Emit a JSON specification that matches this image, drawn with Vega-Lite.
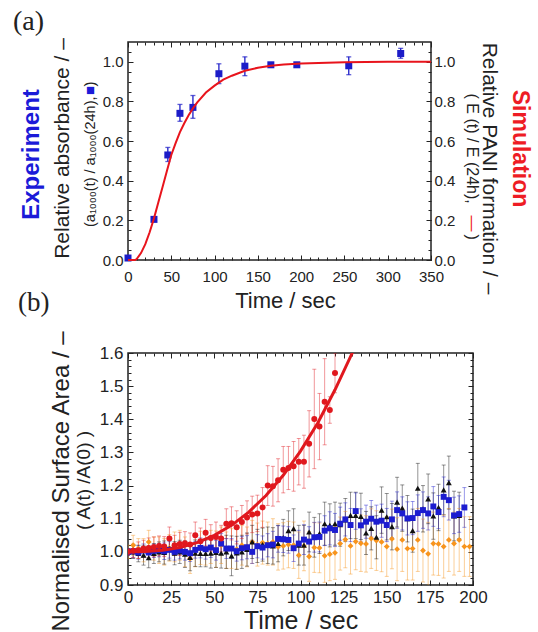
{
"$schema": "https://vega.github.io/schema/vega-lite/v6.json",
"background": "white",
"padding": {"left": 12, "top": 6, "right": 2, "bottom": 0},
"bounds": "flush",
"spacing": 93,
"config": {
  "view": {"stroke": "#222", "strokeWidth": 1.5},
  "axis": {"domain": false, "grid": false, "labelFont": "Liberation Sans", "titleFont": "Liberation Sans", "labelColor": "#222", "titleColor": "#222", "tickColor": "#222", "tickWidth": 1, "titleFontWeight": "normal", "labelFlush": false, "labelOverlap": false},
  "title": {"font": "Liberation Serif", "fontWeight": "normal", "color": "#222", "anchor": "start", "frame": "group"}
},
"datasets": {
  "aexp": [
    {"t":0,"v":0.01,"l":0.004,"h":0.016},
    {"t":30,"v":0.205,"l":0.197,"h":0.213},
    {"t":46,"v":0.53,"l":0.497,"h":0.568},
    {"t":60,"v":0.74,"l":0.70,"h":0.785},
    {"t":75,"v":0.77,"l":0.715,"h":0.83},
    {"t":105,"v":0.94,"l":0.89,"h":0.99},
    {"t":135,"v":0.978,"l":0.93,"h":1.025},
    {"t":165,"v":0.985,"l":0.975,"h":0.995},
    {"t":195,"v":0.985,"l":0.975,"h":0.995},
    {"t":255,"v":0.98,"l":0.935,"h":1.025},
    {"t":315,"v":1.042,"l":1.018,"h":1.068}
  ],
  "asim": [
    {"t":0,"v":0},{"t":5,"v":0},{"t":8,"v":0},{"t":10,"v":0.005},{"t":15,"v":0.035},{"t":20,"v":0.08},{"t":25,"v":0.14},{"t":30,"v":0.21},{"t":35,"v":0.29},{"t":40,"v":0.37},{"t":45,"v":0.45},{"t":50,"v":0.53},{"t":55,"v":0.59},{"t":60,"v":0.645},{"t":65,"v":0.69},{"t":70,"v":0.73},{"t":75,"v":0.765},{"t":80,"v":0.795},{"t":90,"v":0.845},{"t":100,"v":0.88},{"t":110,"v":0.91},{"t":120,"v":0.93},{"t":135,"v":0.955},{"t":150,"v":0.97},{"t":165,"v":0.98},{"t":180,"v":0.987},{"t":200,"v":0.992},{"t":250,"v":0.998},{"t":300,"v":1.0},{"t":350,"v":1.0}
  ],
  "bfit": [
    {"t":0,"v":1.0},{"t":10,"v":1.001},{"t":20,"v":1.005},{"t":30,"v":1.013},{"t":40,"v":1.028},{"t":50,"v":1.05},{"t":60,"v":1.08},{"t":70,"v":1.12},{"t":80,"v":1.17},{"t":90,"v":1.231},{"t":100,"v":1.304},{"t":110,"v":1.389},{"t":120,"v":1.489},{"t":130,"v":1.6},{"t":135,"v":1.661}
  ],
  "bser": [
{"s":"o","t":0,"v":1.000,"l":0.980,"h":1.020},
{"s":"o","t":3,"v":1.020,"l":0.990,"h":1.050},
{"s":"o","t":6,"v":1.010,"l":0.980,"h":1.040},
{"s":"o","t":9,"v":1.005,"l":0.970,"h":1.040},
{"s":"o","t":12,"v":1.030,"l":0.995,"h":1.065},
{"s":"o","t":15,"v":1.010,"l":0.975,"h":1.045},
{"s":"o","t":18,"v":1.005,"l":0.965,"h":1.045},
{"s":"o","t":21,"v":1.000,"l":0.960,"h":1.040},
{"s":"o","t":24,"v":1.012,"l":0.972,"h":1.052},
{"s":"o","t":27,"v":1.015,"l":0.970,"h":1.060},
{"s":"o","t":30,"v":1.020,"l":0.975,"h":1.065},
{"s":"o","t":33,"v":1.000,"l":0.955,"h":1.045},
{"s":"o","t":36,"v":0.980,"l":0.935,"h":1.025},
{"s":"o","t":39,"v":1.005,"l":0.955,"h":1.055},
{"s":"o","t":42,"v":1.012,"l":0.962,"h":1.062},
{"s":"o","t":45,"v":1.010,"l":0.960,"h":1.060},
{"s":"o","t":48,"v":1.015,"l":0.965,"h":1.065},
{"s":"o","t":51,"v":1.008,"l":0.953,"h":1.063},
{"s":"o","t":54,"v":1.020,"l":0.965,"h":1.075},
{"s":"o","t":57,"v":1.005,"l":0.950,"h":1.060},
{"s":"o","t":60,"v":1.010,"l":0.950,"h":1.070},
{"s":"o","t":63,"v":1.008,"l":0.948,"h":1.068},
{"s":"o","t":66,"v":1.020,"l":0.960,"h":1.080},
{"s":"o","t":69,"v":1.015,"l":0.955,"h":1.075},
{"s":"o","t":72,"v":1.030,"l":0.965,"h":1.095},
{"s":"o","t":75,"v":1.022,"l":0.957,"h":1.087},
{"s":"o","t":78,"v":1.028,"l":0.963,"h":1.093},
{"s":"o","t":81,"v":1.025,"l":0.960,"h":1.090},
{"s":"o","t":84,"v":1.030,"l":0.960,"h":1.100},
{"s":"o","t":87,"v":1.015,"l":0.945,"h":1.085},
{"s":"o","t":90,"v":1.018,"l":0.948,"h":1.088},
{"s":"o","t":93,"v":1.022,"l":0.952,"h":1.092},
{"s":"o","t":96,"v":1.020,"l":0.950,"h":1.090},
{"s":"o","t":99,"v":0.990,"l":0.920,"h":1.060},
{"s":"o","t":102,"v":1.018,"l":0.943,"h":1.093},
{"s":"o","t":105,"v":0.986,"l":0.911,"h":1.061},
{"s":"o","t":108,"v":1.013,"l":0.938,"h":1.088},
{"s":"o","t":111,"v":1.012,"l":0.937,"h":1.087},
{"s":"o","t":114,"v":0.988,"l":0.908,"h":1.068},
{"s":"o","t":117,"v":0.993,"l":0.913,"h":1.073},
{"s":"o","t":120,"v":0.997,"l":0.917,"h":1.077},
{"s":"o","t":123,"v":1.025,"l":0.945,"h":1.105},
{"s":"o","t":126,"v":1.037,"l":0.952,"h":1.122},
{"s":"o","t":129,"v":1.018,"l":0.933,"h":1.103},
{"s":"o","t":132,"v":1.031,"l":0.946,"h":1.116},
{"s":"o","t":135,"v":1.026,"l":0.941,"h":1.111},
{"s":"o","t":138,"v":1.024,"l":0.939,"h":1.109},
{"s":"o","t":141,"v":1.040,"l":0.950,"h":1.130},
{"s":"o","t":144,"v":1.034,"l":0.944,"h":1.124},
{"s":"o","t":147,"v":1.030,"l":0.940,"h":1.120},
{"s":"o","t":150,"v":1.016,"l":0.926,"h":1.106},
{"s":"o","t":153,"v":1.039,"l":0.949,"h":1.129},
{"s":"o","t":156,"v":1.008,"l":0.913,"h":1.103},
{"s":"o","t":159,"v":1.036,"l":0.941,"h":1.131},
{"s":"o","t":162,"v":1.010,"l":0.915,"h":1.105},
{"s":"o","t":165,"v":1.010,"l":0.915,"h":1.105},
{"s":"o","t":168,"v":1.036,"l":0.941,"h":1.131},
{"s":"o","t":171,"v":1.004,"l":0.909,"h":1.099},
{"s":"o","t":174,"v":0.994,"l":0.899,"h":1.089},
{"s":"o","t":177,"v":1.025,"l":0.930,"h":1.120},
{"s":"o","t":180,"v":1.024,"l":0.929,"h":1.119},
{"s":"o","t":183,"v":1.016,"l":0.921,"h":1.111},
{"s":"o","t":186,"v":1.036,"l":0.941,"h":1.131},
{"s":"o","t":189,"v":1.025,"l":0.930,"h":1.120},
{"s":"o","t":192,"v":1.036,"l":0.941,"h":1.131},
{"s":"o","t":195,"v":1.016,"l":0.926,"h":1.106},
{"s":"o","t":198,"v":1.016,"l":0.926,"h":1.106},
{"s":"k","t":0,"v":1.000,"l":0.990,"h":1.010},
{"s":"k","t":3,"v":1.000,"l":0.980,"h":1.020},
{"s":"k","t":6,"v":0.995,"l":0.970,"h":1.020},
{"s":"k","t":9,"v":0.990,"l":0.960,"h":1.020},
{"s":"k","t":12,"v":0.982,"l":0.952,"h":1.012},
{"s":"k","t":15,"v":0.995,"l":0.965,"h":1.025},
{"s":"k","t":18,"v":1.000,"l":0.970,"h":1.030},
{"s":"k","t":21,"v":0.998,"l":0.963,"h":1.033},
{"s":"k","t":24,"v":1.010,"l":0.975,"h":1.045},
{"s":"k","t":27,"v":0.996,"l":0.961,"h":1.031},
{"s":"k","t":30,"v":1.000,"l":0.965,"h":1.035},
{"s":"k","t":33,"v":0.993,"l":0.953,"h":1.033},
{"s":"k","t":36,"v":0.983,"l":0.943,"h":1.023},
{"s":"k","t":39,"v":0.996,"l":0.956,"h":1.036},
{"s":"k","t":42,"v":0.995,"l":0.955,"h":1.035},
{"s":"k","t":45,"v":0.995,"l":0.955,"h":1.035},
{"s":"k","t":48,"v":0.996,"l":0.951,"h":1.041},
{"s":"k","t":51,"v":0.998,"l":0.953,"h":1.043},
{"s":"k","t":54,"v":0.996,"l":0.951,"h":1.041},
{"s":"k","t":57,"v":1.000,"l":0.950,"h":1.050},
{"s":"k","t":60,"v":0.988,"l":0.928,"h":1.048},
{"s":"k","t":63,"v":0.997,"l":0.947,"h":1.047},
{"s":"k","t":66,"v":1.000,"l":0.950,"h":1.050},
{"s":"k","t":69,"v":1.007,"l":0.957,"h":1.057},
{"s":"k","t":72,"v":1.030,"l":0.980,"h":1.080},
{"s":"k","t":75,"v":1.018,"l":0.968,"h":1.068},
{"s":"k","t":78,"v":1.022,"l":0.972,"h":1.072},
{"s":"k","t":81,"v":1.020,"l":0.965,"h":1.075},
{"s":"k","t":84,"v":1.018,"l":0.963,"h":1.073},
{"s":"k","t":87,"v":1.025,"l":0.970,"h":1.080},
{"s":"k","t":90,"v":1.043,"l":0.988,"h":1.098},
{"s":"k","t":93,"v":1.064,"l":1.004,"h":1.124},
{"s":"k","t":96,"v":1.070,"l":1.010,"h":1.130},
{"s":"k","t":99,"v":1.020,"l":0.960,"h":1.080},
{"s":"k","t":102,"v":1.020,"l":0.960,"h":1.080},
{"s":"k","t":105,"v":1.060,"l":1.000,"h":1.120},
{"s":"k","t":108,"v":1.044,"l":0.984,"h":1.104},
{"s":"k","t":111,"v":1.055,"l":0.995,"h":1.115},
{"s":"k","t":114,"v":1.085,"l":1.020,"h":1.150},
{"s":"k","t":117,"v":1.080,"l":1.015,"h":1.145},
{"s":"k","t":120,"v":1.085,"l":1.020,"h":1.150},
{"s":"k","t":123,"v":1.082,"l":1.017,"h":1.147},
{"s":"k","t":126,"v":1.096,"l":1.031,"h":1.161},
{"s":"k","t":129,"v":1.110,"l":1.040,"h":1.180},
{"s":"k","t":132,"v":1.110,"l":1.040,"h":1.180},
{"s":"k","t":135,"v":1.107,"l":1.037,"h":1.177},
{"s":"k","t":138,"v":1.057,"l":0.992,"h":1.122},
{"s":"k","t":141,"v":1.071,"l":1.006,"h":1.136},
{"s":"k","t":144,"v":1.044,"l":0.979,"h":1.109},
{"s":"k","t":147,"v":1.126,"l":1.056,"h":1.196},
{"s":"k","t":150,"v":1.106,"l":1.036,"h":1.176},
{"s":"k","t":153,"v":1.076,"l":1.006,"h":1.146},
{"s":"k","t":156,"v":1.150,"l":1.075,"h":1.225},
{"s":"k","t":159,"v":1.132,"l":1.062,"h":1.202},
{"s":"k","t":162,"v":1.100,"l":1.030,"h":1.170},
{"s":"k","t":165,"v":1.064,"l":0.999,"h":1.129},
{"s":"k","t":168,"v":1.192,"l":1.117,"h":1.267},
{"s":"k","t":171,"v":1.130,"l":1.060,"h":1.200},
{"s":"k","t":174,"v":1.160,"l":1.085,"h":1.235},
{"s":"k","t":177,"v":1.108,"l":1.038,"h":1.178},
{"s":"k","t":180,"v":1.134,"l":1.064,"h":1.204},
{"s":"k","t":183,"v":1.187,"l":1.112,"h":1.262},
{"s":"k","t":186,"v":1.209,"l":1.129,"h":1.289},
{"s":"k","t":189,"v":1.108,"l":1.033,"h":1.183},
{"s":"k","t":192,"v":1.110,"l":1.040,"h":1.180},
{"s":"b","t":0,"v":1.000,"l":0.990,"h":1.010},
{"s":"b","t":3,"v":1.002,"l":0.982,"h":1.022},
{"s":"b","t":6,"v":0.998,"l":0.978,"h":1.018},
{"s":"b","t":9,"v":1.004,"l":0.984,"h":1.024},
{"s":"b","t":12,"v":0.998,"l":0.978,"h":1.018},
{"s":"b","t":15,"v":1.003,"l":0.983,"h":1.023},
{"s":"b","t":18,"v":1.005,"l":0.985,"h":1.025},
{"s":"b","t":21,"v":1.002,"l":0.977,"h":1.027},
{"s":"b","t":24,"v":1.006,"l":0.981,"h":1.031},
{"s":"b","t":27,"v":1.000,"l":0.975,"h":1.025},
{"s":"b","t":30,"v":1.004,"l":0.979,"h":1.029},
{"s":"b","t":33,"v":1.000,"l":0.975,"h":1.025},
{"s":"b","t":36,"v":0.996,"l":0.971,"h":1.021},
{"s":"b","t":39,"v":1.006,"l":0.981,"h":1.031},
{"s":"b","t":42,"v":1.012,"l":0.982,"h":1.042},
{"s":"b","t":45,"v":1.008,"l":0.978,"h":1.038},
{"s":"b","t":48,"v":1.013,"l":0.983,"h":1.043},
{"s":"b","t":51,"v":1.005,"l":0.975,"h":1.035},
{"s":"b","t":54,"v":1.025,"l":0.995,"h":1.055},
{"s":"b","t":57,"v":1.010,"l":0.980,"h":1.040},
{"s":"b","t":60,"v":1.010,"l":0.980,"h":1.040},
{"s":"b","t":63,"v":1.002,"l":0.972,"h":1.032},
{"s":"b","t":66,"v":1.011,"l":0.976,"h":1.046},
{"s":"b","t":69,"v":1.014,"l":0.979,"h":1.049},
{"s":"b","t":72,"v":1.000,"l":0.965,"h":1.035},
{"s":"b","t":75,"v":1.017,"l":0.982,"h":1.052},
{"s":"b","t":78,"v":1.013,"l":0.978,"h":1.048},
{"s":"b","t":81,"v":1.020,"l":0.985,"h":1.055},
{"s":"b","t":84,"v":1.022,"l":0.982,"h":1.062},
{"s":"b","t":87,"v":1.039,"l":0.999,"h":1.079},
{"s":"b","t":90,"v":1.038,"l":0.998,"h":1.078},
{"s":"b","t":93,"v":1.036,"l":0.996,"h":1.076},
{"s":"b","t":96,"v":1.011,"l":0.971,"h":1.051},
{"s":"b","t":99,"v":1.025,"l":0.985,"h":1.065},
{"s":"b","t":102,"v":1.037,"l":0.992,"h":1.082},
{"s":"b","t":105,"v":1.031,"l":0.986,"h":1.076},
{"s":"b","t":108,"v":1.044,"l":0.999,"h":1.089},
{"s":"b","t":111,"v":1.045,"l":1.000,"h":1.090},
{"s":"b","t":114,"v":1.064,"l":1.019,"h":1.109},
{"s":"b","t":117,"v":1.071,"l":1.021,"h":1.121},
{"s":"b","t":120,"v":1.066,"l":1.016,"h":1.116},
{"s":"b","t":123,"v":1.085,"l":1.035,"h":1.135},
{"s":"b","t":126,"v":1.098,"l":1.048,"h":1.148},
{"s":"b","t":129,"v":1.081,"l":1.031,"h":1.131},
{"s":"b","t":132,"v":1.123,"l":1.068,"h":1.178},
{"s":"b","t":135,"v":1.080,"l":1.030,"h":1.130},
{"s":"b","t":138,"v":1.091,"l":1.041,"h":1.141},
{"s":"b","t":141,"v":1.100,"l":1.045,"h":1.155},
{"s":"b","t":144,"v":1.091,"l":1.041,"h":1.141},
{"s":"b","t":147,"v":1.094,"l":1.044,"h":1.144},
{"s":"b","t":150,"v":1.081,"l":1.031,"h":1.131},
{"s":"b","t":153,"v":1.098,"l":1.043,"h":1.153},
{"s":"b","t":156,"v":1.126,"l":1.071,"h":1.181},
{"s":"b","t":159,"v":1.116,"l":1.066,"h":1.166},
{"s":"b","t":162,"v":1.101,"l":1.051,"h":1.151},
{"s":"b","t":165,"v":1.102,"l":1.052,"h":1.152},
{"s":"b","t":168,"v":1.117,"l":1.062,"h":1.172},
{"s":"b","t":171,"v":1.126,"l":1.071,"h":1.181},
{"s":"b","t":174,"v":1.116,"l":1.066,"h":1.166},
{"s":"b","t":177,"v":1.137,"l":1.077,"h":1.197},
{"s":"b","t":180,"v":1.120,"l":1.070,"h":1.170},
{"s":"b","t":183,"v":1.166,"l":1.106,"h":1.226},
{"s":"b","t":186,"v":1.156,"l":1.096,"h":1.216},
{"s":"b","t":189,"v":1.110,"l":1.055,"h":1.165},
{"s":"b","t":192,"v":1.114,"l":1.059,"h":1.169},
{"s":"b","t":195,"v":1.134,"l":1.074,"h":1.194},
{"s":"r","t":0,"v":1.000,"l":0.990,"h":1.010},
{"s":"r","t":3,"v":1.003,"l":0.983,"h":1.023},
{"s":"r","t":6,"v":1.005,"l":0.980,"h":1.030},
{"s":"r","t":9,"v":1.010,"l":0.985,"h":1.035},
{"s":"r","t":12,"v":1.012,"l":0.982,"h":1.042},
{"s":"r","t":15,"v":1.015,"l":0.985,"h":1.045},
{"s":"r","t":18,"v":1.018,"l":0.988,"h":1.048},
{"s":"r","t":21,"v":1.016,"l":0.986,"h":1.046},
{"s":"r","t":24,"v":1.040,"l":1.005,"h":1.075},
{"s":"r","t":27,"v":1.020,"l":0.990,"h":1.050},
{"s":"r","t":30,"v":1.024,"l":0.989,"h":1.059},
{"s":"r","t":33,"v":1.026,"l":0.991,"h":1.061},
{"s":"r","t":36,"v":1.022,"l":0.987,"h":1.057},
{"s":"r","t":39,"v":1.050,"l":1.010,"h":1.090},
{"s":"r","t":42,"v":1.032,"l":0.992,"h":1.072},
{"s":"r","t":45,"v":1.058,"l":1.018,"h":1.098},
{"s":"r","t":48,"v":1.042,"l":1.002,"h":1.082},
{"s":"r","t":51,"v":1.045,"l":1.000,"h":1.090},
{"s":"r","t":54,"v":1.040,"l":1.000,"h":1.080},
{"s":"r","t":57,"v":1.085,"l":1.040,"h":1.130},
{"s":"r","t":60,"v":1.086,"l":1.036,"h":1.136},
{"s":"r","t":63,"v":1.074,"l":1.024,"h":1.124},
{"s":"r","t":66,"v":1.090,"l":1.040,"h":1.140},
{"s":"r","t":69,"v":1.104,"l":1.054,"h":1.154},
{"s":"r","t":72,"v":1.113,"l":1.058,"h":1.168},
{"s":"r","t":75,"v":1.116,"l":1.061,"h":1.171},
{"s":"r","t":78,"v":1.134,"l":1.074,"h":1.194},
{"s":"r","t":81,"v":1.200,"l":1.140,"h":1.260},
{"s":"r","t":84,"v":1.198,"l":1.138,"h":1.258},
{"s":"r","t":87,"v":1.216,"l":1.151,"h":1.281},
{"s":"r","t":90,"v":1.248,"l":1.178,"h":1.318},
{"s":"r","t":93,"v":1.253,"l":1.188,"h":1.318},
{"s":"r","t":96,"v":1.258,"l":1.183,"h":1.333},
{"s":"r","t":99,"v":1.272,"l":1.202,"h":1.342},
{"s":"r","t":102,"v":1.272,"l":1.192,"h":1.352},
{"s":"r","t":105,"v":1.326,"l":1.226,"h":1.426},
{"s":"r","t":108,"v":1.401,"l":1.251,"h":1.551},
{"s":"r","t":111,"v":1.378,"l":1.278,"h":1.478},
{"s":"r","t":114,"v":1.453,"l":1.323,"h":1.583},
{"s":"r","t":117,"v":1.428,"l":1.388,"h":1.468},
{"s":"r","t":120,"v":1.540,"l":1.480,"h":1.600}
  ]
},
"vconcat": [
{
  "width": 303, "height": 218,
  "title": {"text": "(a)", "dx": -115, "offset": 2, "fontSize": 28},
  "layer": [
    {"data": {"name": "aexp"},
     "mark": {"type": "rule", "color": "#1c1cc8", "strokeWidth": 1.3},
     "encoding": {
       "x": {"field": "t", "type": "quantitative", "scale": {"domain": [0,350], "nice": false, "zero": false},
             "axis": {"orient": "bottom", "values": [0,50,100,150,200,250,300,350], "tickSize": -5, "labelPadding": 14, "labelFontSize": 15, "title": "Time / sec", "titleFontSize": 22, "titlePadding": 4, "titleX": 157, "minExtent": 26, "maxExtent": 26}},
       "y": {"field": "l", "type": "quantitative", "scale": {"domain": [0,1.1], "nice": false, "zero": false},
             "axis": {"orient": "left", "values": [0,0.2,0.4,0.6,0.8,1], "format": ".1f", "tickSize": -5, "labelPadding": 10, "labelFontSize": 15, "title": "(a₁₀₀₀(t) / a₁₀₀₀(24h),", "titleFontSize": 14.5, "titleAlign": "right", "titleY": 54, "titlePadding": 4, "minExtent": 27, "maxExtent": 27}},
       "y2": {"field": "h"}
     }},
    {"data": {"name": "aexp"},
     "mark": {"type": "tick", "orient": "horizontal", "size": 5, "thickness": 1.3, "color": "#1c1cc8"},
     "encoding": {
       "x": {"field": "t", "type": "quantitative", "scale": {"domain": [0,350], "nice": false, "zero": false},
             "axis": {"orient": "bottom", "values": [0,10,20,30,40,50,60,70,80,90,100,110,120,130,140,150,160,170,180,190,200,210,220,230,240,250,260,270,280,290,300,310,320,330,340,350], "tickSize": -3, "labels": false, "title": null, "minExtent": 0, "maxExtent": 0}},
       "y": {"field": "l", "type": "quantitative", "scale": {"domain": [0,1.1], "nice": false, "zero": false},
             "axis": {"orient": "left", "values": [0,0.05,0.1,0.15,0.2,0.25,0.3,0.35,0.4,0.45,0.5,0.55,0.6,0.65,0.7,0.75,0.8,0.85,0.9,0.95,1,1.05], "tickSize": -3, "labels": false, "title": "Relative absorbance / –", "titleFontSize": 21, "titleY": 106, "titlePadding": 56, "minExtent": 0, "maxExtent": 0}}
     }},
    {"data": {"name": "aexp"},
     "mark": {"type": "tick", "orient": "horizontal", "size": 5, "thickness": 1.3, "color": "#1c1cc8"},
     "encoding": {
       "x": {"field": "t", "type": "quantitative", "scale": {"domain": [0,350], "nice": false, "zero": false},
             "axis": {"orient": "top", "values": [0,50,100,150,200,250,300,350], "tickSize": -5, "labels": false, "title": null, "minExtent": 0, "maxExtent": 0}},
       "y": {"field": "h", "type": "quantitative", "scale": {"domain": [0,1.1], "nice": false, "zero": false},
             "axis": {"orient": "left", "ticks": false, "labels": false, "title": "Experiment", "titleColor": "#1b1bd8", "titleFontWeight": "bold", "titleFontSize": 24, "titleY": 112, "titlePadding": 85, "minExtent": 0, "maxExtent": 0}}
     }},
    {"data": {"name": "aexp"},
     "mark": {"type": "point", "shape": "square", "filled": true, "opacity": 1, "size": 49, "color": "#1c1cc8"},
     "encoding": {
       "x": {"field": "t", "type": "quantitative", "scale": {"domain": [0,350], "nice": false, "zero": false},
             "axis": {"orient": "top", "values": [0,10,20,30,40,50,60,70,80,90,100,110,120,130,140,150,160,170,180,190,200,210,220,230,240,250,260,270,280,290,300,310,320,330,340,350], "tickSize": -3, "labels": false, "title": null, "minExtent": 0, "maxExtent": 0}},
       "y": {"field": "v", "type": "quantitative", "scale": {"domain": [0,1.1], "nice": false, "zero": false},
             "axis": {"orient": "left", "ticks": false, "labels": false, "title": "■", "titleColor": "#1b1bd8", "titleFontSize": 15, "titleY": 48, "titlePadding": 31, "minExtent": 0, "maxExtent": 0}}
     }},
    {"data": {"name": "asim"},
     "mark": {"type": "line", "opacity": 0},
     "encoding": {
       "x": {"field": "t", "type": "quantitative", "scale": {"domain": [0,350], "nice": false, "zero": false}, "axis": null},
       "y": {"field": "v", "type": "quantitative", "scale": {"domain": [0,1.1], "nice": false, "zero": false},
             "axis": {"orient": "left", "ticks": false, "labels": false, "title": ")", "titleFontSize": 15, "titleAlign": "left", "titleY": 44, "titlePadding": 31, "minExtent": 0, "maxExtent": 0}}
     }},
    {"data": {"name": "asim"},
     "mark": {"type": "line", "color": "#e8141c", "strokeWidth": 2},
     "encoding": {
       "x": {"field": "t", "type": "quantitative", "scale": {"domain": [0,350], "nice": false, "zero": false}, "axis": null},
       "y": {"field": "v", "type": "quantitative", "scale": {"domain": [0,1.1], "nice": false, "zero": false},
             "axis": {"orient": "right", "values": [0,0.2,0.4,0.6,0.8,1], "format": ".1f", "tickSize": -5, "labelPadding": 8, "labelFontSize": 15, "title": "( E (t) / E (24h),", "titleFontSize": 16, "titleAlign": "left", "titleY": 51, "titlePadding": 7, "minExtent": 25, "maxExtent": 25}}
     }},
    {"data": {"name": "asim"},
     "mark": {"type": "line", "opacity": 0},
     "encoding": {
       "x": {"field": "t", "type": "quantitative", "scale": {"domain": [0,350], "nice": false, "zero": false}, "axis": null},
       "y": {"field": "v", "type": "quantitative", "scale": {"domain": [0,1.1], "nice": false, "zero": false},
             "axis": {"orient": "right", "values": [0,0.05,0.1,0.15,0.2,0.25,0.3,0.35,0.4,0.45,0.5,0.55,0.6,0.65,0.7,0.75,0.8,0.85,0.9,0.95,1,1.05], "tickSize": -3, "labels": false, "title": "Relative PANI formation / –", "titleFontSize": 21, "titleY": 126, "titlePadding": 47, "minExtent": 0, "maxExtent": 0}}
     }},
    {"data": {"name": "asim"},
     "mark": {"type": "line", "opacity": 0},
     "encoding": {
       "x": {"field": "t", "type": "quantitative", "scale": {"domain": [0,350], "nice": false, "zero": false}, "axis": null},
       "y": {"field": "v", "type": "quantitative", "scale": {"domain": [0,1.1], "nice": false, "zero": false},
             "axis": {"orient": "right", "ticks": false, "labels": false, "title": "Simulation", "titleColor": "#ee1c24", "titleFontWeight": "bold", "titleFontSize": 23, "titleY": 106, "titlePadding": 76, "minExtent": 0, "maxExtent": 0}}
     }},
    {"data": {"name": "asim"},
     "mark": {"type": "line", "opacity": 0},
     "encoding": {
       "x": {"field": "t", "type": "quantitative", "scale": {"domain": [0,350], "nice": false, "zero": false}, "axis": null},
       "y": {"field": "v", "type": "quantitative", "scale": {"domain": [0,1.1], "nice": false, "zero": false},
             "axis": {"orient": "right", "ticks": false, "labels": false, "title": "—", "titleColor": "#ee1c24", "titleFontSize": 16, "titleY": 181, "titlePadding": 32, "minExtent": 0, "maxExtent": 0}}
     }},
    {"data": {"name": "asim"},
     "mark": {"type": "line", "opacity": 0},
     "encoding": {
       "x": {"field": "t", "type": "quantitative", "scale": {"domain": [0,350], "nice": false, "zero": false}, "axis": null},
       "y": {"field": "v", "type": "quantitative", "scale": {"domain": [0,1.1], "nice": false, "zero": false},
             "axis": {"orient": "right", "ticks": false, "labels": false, "title": ")", "titleFontSize": 16, "titleAlign": "left", "titleY": 192, "titlePadding": 32, "minExtent": 0, "maxExtent": 0}}
     }}
  ],
  "resolve": {"axis": {"x": "independent", "y": "independent"}}
},
{
  "width": 345, "height": 232,
  "title": {"text": "(b)", "dx": -110, "offset": 13, "fontSize": 27},
  "layer": [
    {"data": {"name": "bser"},
     "mark": {"type": "rule", "strokeWidth": 1, "opacity": 0.45, "clip": true},
     "encoding": {
       "x": {"field": "t", "type": "quantitative", "scale": {"domain": [0,200], "nice": false, "zero": false},
             "axis": {"orient": "bottom", "values": [0,25,50,75,100,125,150,175,200], "tickSize": -5, "labelPadding": 9, "labelFontSize": 17, "title": "Time / sec", "titleFontSize": 25, "titlePadding": 3, "minExtent": 20, "maxExtent": 20}},
       "y": {"field": "l", "type": "quantitative", "scale": {"domain": [0.9,1.6], "nice": false, "zero": false},
             "axis": {"orient": "left", "values": [0.9,1.0,1.1,1.2,1.3,1.4,1.5,1.6], "format": ".1f", "tickSize": -5, "labelPadding": 10, "labelFontSize": 17, "title": "( A(t) /A(0) )", "titleFontSize": 19, "titleY": 127, "titlePadding": 5, "minExtent": 30, "maxExtent": 30}},
       "y2": {"field": "h"},
       "color": {"field": "s", "type": "nominal", "scale": {"domain": ["o","k","b","r"], "range": ["#f7941d","#111111","#1c1cd0","#e0181e"]}, "legend": null}
     }},
    {"data": {"name": "bser"},
     "mark": {"type": "tick", "orient": "horizontal", "size": 4, "thickness": 1, "opacity": 0.45, "clip": true},
     "encoding": {
       "x": {"field": "t", "type": "quantitative", "scale": {"domain": [0,200], "nice": false, "zero": false},
             "axis": {"orient": "bottom", "values": [0,5,10,15,20,25,30,35,40,45,50,55,60,65,70,75,80,85,90,95,100,105,110,115,120,125,130,135,140,145,150,155,160,165,170,175,180,185,190,195,200], "tickSize": -3, "labels": false, "title": null, "minExtent": 0, "maxExtent": 0}},
       "y": {"field": "l", "type": "quantitative", "scale": {"domain": [0.9,1.6], "nice": false, "zero": false},
             "axis": {"orient": "left", "values": [0.92,0.94,0.96,0.98,1.02,1.04,1.06,1.08,1.12,1.14,1.16,1.18,1.22,1.24,1.26,1.28,1.32,1.34,1.36,1.38,1.42,1.44,1.46,1.48,1.52,1.54,1.56,1.58], "tickSize": -3, "labels": false, "title": "Normalised Surface Area / –", "titleFontSize": 24, "titleY": 128, "titlePadding": 55, "minExtent": 0, "maxExtent": 0}},
       "color": {"field": "s", "type": "nominal", "scale": {"domain": ["o","k","b","r"], "range": ["#f7941d","#111111","#1c1cd0","#e0181e"]}, "legend": null}
     }},
    {"data": {"name": "bser"},
     "mark": {"type": "tick", "orient": "horizontal", "size": 4, "thickness": 1, "opacity": 0.45, "clip": true},
     "encoding": {
       "x": {"field": "t", "type": "quantitative", "scale": {"domain": [0,200], "nice": false, "zero": false},
             "axis": {"orient": "top", "values": [0,25,50,75,100,125,150,175,200], "tickSize": -5, "labels": false, "title": null, "minExtent": 0, "maxExtent": 0}},
       "y": {"field": "h", "type": "quantitative", "scale": {"domain": [0.9,1.6], "nice": false, "zero": false},
             "axis": {"orient": "right", "values": [0.9,1.0,1.1,1.2,1.3,1.4,1.5,1.6], "tickSize": -5, "labels": false, "title": null, "minExtent": 0, "maxExtent": 0}},
       "color": {"field": "s", "type": "nominal", "scale": {"domain": ["o","k","b","r"], "range": ["#f7941d","#111111","#1c1cd0","#e0181e"]}, "legend": null}
     }},
    {"data": {"name": "bser"},
     "mark": {"type": "point", "filled": true, "opacity": 1, "clip": true},
     "encoding": {
       "x": {"field": "t", "type": "quantitative", "scale": {"domain": [0,200], "nice": false, "zero": false},
             "axis": {"orient": "top", "values": [0,5,10,15,20,25,30,35,40,45,50,55,60,65,70,75,80,85,90,95,100,105,110,115,120,125,130,135,140,145,150,155,160,165,170,175,180,185,190,195,200], "tickSize": -3, "labels": false, "title": null, "minExtent": 0, "maxExtent": 0}},
       "y": {"field": "v", "type": "quantitative", "scale": {"domain": [0.9,1.6], "nice": false, "zero": false},
             "axis": {"orient": "right", "values": [0.92,0.94,0.96,0.98,1.02,1.04,1.06,1.08,1.12,1.14,1.16,1.18,1.22,1.24,1.26,1.28,1.32,1.34,1.36,1.38,1.42,1.44,1.46,1.48,1.52,1.54,1.56,1.58], "tickSize": -3, "labels": false, "title": null, "minExtent": 0, "maxExtent": 0}},
       "color": {"field": "s", "type": "nominal", "scale": {"domain": ["o","k","b","r"], "range": ["#f7941d","#111111","#1c1cd0","#e0181e"]}, "legend": null},
       "shape": {"field": "s", "type": "nominal", "scale": {"domain": ["o","k","b","r"], "range": ["diamond","triangle-up","square","circle"]}, "legend": null},
       "size": {"field": "s", "type": "ordinal", "scale": {"domain": ["o","k","b","r"], "range": [34,36,30,44]}, "legend": null}
     }},
    {"data": {"name": "bfit"},
     "mark": {"type": "line", "color": "#e0181e", "strokeWidth": 3, "clip": true},
     "encoding": {
       "x": {"field": "t", "type": "quantitative", "scale": {"domain": [0,200], "nice": false, "zero": false}, "axis": null},
       "y": {"field": "v", "type": "quantitative", "scale": {"domain": [0.9,1.6], "nice": false, "zero": false}, "axis": null}
     }}
  ],
  "resolve": {"axis": {"x": "independent", "y": "independent"}}
}
]
}
